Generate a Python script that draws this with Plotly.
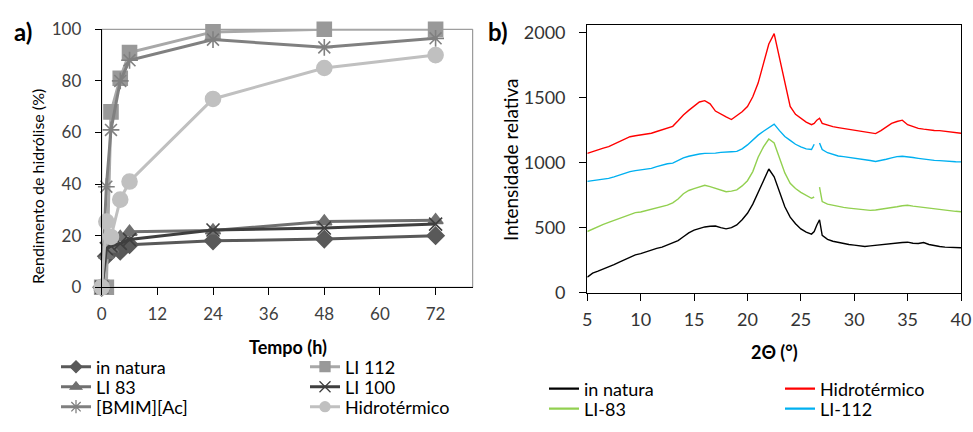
import plotly.graph_objects as go

W, H = 973, 432

# ---------------- panel a) data ----------------
tempo_h = [0, 1, 2, 4, 6, 24, 48, 72]
in_natura = [0, 12, 14, 14, 16.5, 18, 18.7, 20]
li_112 = [0, 0, 68, 81, 91, 99, 100, 100]
li_83 = [0, 12.5, 15, 19.5, 21.5, 22, 25.5, 26]
li_100 = [0, 15, 16, 17, 18.5, 22.2, 23, 24.5]
bmim_ac = [0, 39, 61, 80, 88, 96, 93, 96.5]
hidrotermico = [0, 25.5, 19.5, 34, 41, 73, 85, 90]

# ---------------- panel b) data ----------------
theta2 = [5.0, 5.5, 6.0, 6.5, 7.0, 7.5, 8.0, 8.5, 9.0, 9.5, 10.0, 10.5, 11.0, 11.5, 12.0, 12.5,
          13.0, 13.5, 14.0, 14.5, 15.0, 15.5, 16.0, 16.5, 17.0, 17.5, 18.0, 18.5, 19.0, 19.5,
          20.0, 20.5, 21.0, 21.5, 22.0, 22.5, 23.0, 23.5, 24.0, 24.5, 25.0, 25.5, 26.0,
          26.25, 26.5, 26.75, 27.0, 27.5, 28.0, 28.5, 29.0, 29.5, 30.0, 30.5, 31.0, 31.5,
          32.0, 32.5, 33.0, 33.5, 34.0, 34.5, 35.0, 35.5, 36.0, 36.5, 37.0, 37.5, 38.0,
          38.5, 39.0, 39.5, 40.0]
xrd_in_natura = [120, 150, 165, 180, 200, 215, 235, 255, 275, 290, 300, 315, 330, 340, 350, 365,
                 380, 400, 430, 460, 480, 495, 505, 510, 512, 500, 490, 500, 520, 560,
                 610, 680, 770, 860, 950, 890, 780, 660, 580, 530, 490, 465, 450,
                 470, 520, 560, 440, 410, 395, 385, 375, 370, 365, 360, 355, 360,
                 365, 370, 375, 378, 382, 385, 388, 380, 378, 385, 370, 360, 355,
                 350, 348, 345, 345]
xrd_li83 = [470, 490, 510, 525, 540, 555, 570, 590, 605, 615, 620, 630, 640, 650, 660, 672,
            690, 720, 760, 785, 800, 815, 825, 815, 800, 785, 775, 780, 790, 820,
            860, 930, 1040, 1120, 1180, 1150, 1030, 920, 840, 800, 770, 745, 725,
            735, None, 810, 700, 680, 670, 662, 655, 650, 645, 640, 635, 632,
            635, 640, 645, 652, 660, 668, 672, 665, 660, 652, 645, 640, 635,
            630, 628, 625, 622]
xrd_li112 = [855, 860, 865, 870, 878, 890, 905, 918, 930, 938, 945, 950, 955, 968, 980, 990,
             995, 1015, 1035, 1048, 1058, 1065, 1070, 1070, 1072, 1078, 1083, 1083, 1085, 1105,
             1135, 1175, 1210, 1240, 1265, 1295, 1245, 1200, 1170, 1140, 1120, 1105, 1100,
             1140, None, 1150, 1100, 1075, 1060, 1050, 1045, 1040, 1035, 1030, 1025, 1015,
             1008, 1015, 1025, 1035, 1045, 1048, 1045, 1038, 1032, 1025, 1020, 1016, 1014,
             1010, 1008, 1006, 1005]
xrd_hidro = [1070, 1085, 1098, 1110, 1122, 1140, 1160, 1180, 1198, 1205, 1212, 1218, 1225, 1238, 1250, 1262,
             1278, 1320, 1365, 1400, 1430, 1465, 1475, 1450, 1395, 1370, 1350, 1330, 1360, 1390,
             1430, 1505, 1610, 1760, 1910, 1990, 1810, 1610, 1430, 1370, 1340, 1310, 1290,
             1300, 1325, 1340, 1300, 1285, 1275, 1268, 1262, 1255, 1250, 1245, 1238, 1230,
             1222, 1245, 1275, 1300, 1315, 1325, 1290, 1275, 1262, 1256, 1250, 1246, 1245,
             1240, 1237, 1230, 1224]

FONT = "Lato"
fig = go.Figure()


def px_x(p):
    return p / W


def px_y(p):
    return 1 - p / H


legend_pos = {}
leg_counter = [0]


def new_legend(left, yc, size):
    leg_counter[0] += 1
    n = leg_counter[0]
    key = "legend" if n == 1 else f"legend{n}"
    legend_pos[key] = dict(x=px_x(left), y=px_y(yc), xanchor="left", yanchor="middle",
                           bgcolor="rgba(0,0,0,0)", borderwidth=0,
                           font=dict(family=FONT, size=size, color="#000000"),
                           tracegroupgap=0, itemsizing="trace")
    return key


series_a = [
    ("in natura", in_natura, "#595959", "#595959", "diamond", 13, 9, (56, 367)),
    ("LI 112", li_112, "#A8A8A8", "#999999", "square", 14, 10, (305, 367)),
    ("LI 83", li_83, "#707070", "#707070", "triangle-up", 13, 10, (56, 387)),
    ("LI 100", li_100, "#3F3F3F", "#3F3F3F", "x-thin-open", 13, 11, (305, 387)),
    ("[BMIM][Ac]", bmim_ac, "#808080", "#808080", "asterisk-open", 14, 11, (56, 407)),
    ("Hidrotérmico", hidrotermico, "#C0C0C0", "#C0C0C0", "circle", 15, 10, (305, 407)),
]
for name, vals, lc, mc, sym, ms, lms, (lx, ly) in series_a:
    fig.add_trace(go.Scatter(
        x=tempo_h, y=vals, name=name, mode="lines+markers",
        line=dict(color=lc, width=3),
        marker=dict(symbol=sym, size=ms, color=mc, line=dict(color=mc, width=1.6)),
        xaxis="x", yaxis="y", showlegend=False, cliponaxis=False))
for name, vals, lc, mc, sym, ms, lms, (lx, ly) in series_a:
    key = new_legend(lx, ly, 18)
    fig.add_trace(go.Scatter(
        x=[None], y=[None], name=name, mode="lines+markers",
        line=dict(color=lc, width=3),
        marker=dict(symbol=sym, size=lms, color=mc, line=dict(color=mc, width=1.3)),
        xaxis="x", yaxis="y", legend=key))

series_b = [
    ("in natura", xrd_in_natura, "#000000", (544, 389)),
    ("LI-83", xrd_li83, "#92D050", (544, 409)),
    ("LI-112", xrd_li112, "#00B0F0", (780, 409)),
    ("Hidrotérmico", xrd_hidro, "#FF0000", (780, 389)),
]
for name, vals, col, (lx, ly) in series_b:
    fig.add_trace(go.Scatter(
        x=theta2, y=vals, name=name, mode="lines",
        line=dict(color=col, width=1.4), connectgaps=False,
        xaxis="x2", yaxis="y2", showlegend=False))
for name, vals, col, (lx, ly) in series_b:
    key = new_legend(lx, ly, 18)
    fig.add_trace(go.Scatter(
        x=[None], y=[None], name=name, mode="lines",
        line=dict(color=col, width=2.2), xaxis="x2", yaxis="y2", legend=key))

# plot areas in pixels
ax_l, ax_r, ax_t, ax_b = 101.7, 472.7, 29.3, 287.3
bx_l, bx_r, bx_t, bx_b = 587.3, 961.0, 25.0, 292.7

tickfont_a = dict(family=FONT, size=17, color="#404040")
tickfont_b = dict(family=FONT, size=18, color="#333333")


def label(text, x, y, size, angle=0):
    return dict(text=text, x=px_x(x), y=px_y(y), xref="paper", yref="paper",
                xanchor="center", yanchor="middle", showarrow=False, textangle=angle,
                font=dict(family=FONT, size=size, color="#000000"))


layout = dict(
    width=W, height=H,
    margin=dict(l=0, r=0, t=0, b=0, autoexpand=False),
    paper_bgcolor="white", plot_bgcolor="white",
    showlegend=True,
    xaxis=dict(domain=[px_x(ax_l), px_x(ax_r)], range=[0, 80], tickmode="array",
               tickvals=[0, 12, 24, 36, 48, 60, 72], ticks="outside", ticklen=7,
               tickcolor="#000000", showline=True, linecolor="#000000", linewidth=1,
               showgrid=False, zeroline=False, tickfont=tickfont_a, anchor="y",
               ticklabelstandoff=4, automargin=False),
    yaxis=dict(domain=[px_y(ax_b), px_y(ax_t)], range=[0, 100], dtick=20,
               ticks="outside", ticklen=6, tickcolor="#000000", showline=True,
               linecolor="#000000", linewidth=1, showgrid=False, zeroline=False,
               tickfont=tickfont_a, anchor="x", ticklabelstandoff=10, automargin=False),
    xaxis2=dict(domain=[px_x(bx_l), px_x(bx_r)], range=[5, 40], dtick=5,
                ticks="outside", ticklen=7, tickcolor="#000000", showline=True,
                linecolor="#000000", linewidth=1.3, mirror=True, showgrid=False,
                zeroline=False, tickfont=tickfont_b, anchor="y2", ticklabelstandoff=4,
                automargin=False),
    yaxis2=dict(domain=[px_y(bx_b), px_y(bx_t)], range=[0, 2056],
                tickvals=[0, 500, 1000, 1500, 2000],
                ticks="outside", ticklen=7, tickcolor="#000000", showline=True,
                linecolor="#000000", linewidth=1.3, mirror=True, showgrid=False,
                zeroline=False, tickfont=tickfont_b, anchor="x2", ticklabelstandoff=10,
                automargin=False),
    shapes=[dict(type="rect", xref="paper", yref="paper",
                 x0=px_x(ax_l), x1=px_x(ax_r), y0=px_y(ax_b), y1=px_y(ax_t),
                 line=dict(color="#868686", width=1), layer="below")],
    annotations=[
        label("<b>a)</b>", 23, 31, 24),
        label("<b>b)</b>", 498, 31, 24),
        label("Rendimento de hidrólise (%)", 37, 187, 16, -90),
        label("Intensidade relativa", 510, 160, 19, -90),
        label("<b>Tempo (h)</b>", 288, 347, 18),
        label("<b>2Θ (°)</b>", 774, 352, 18),
    ],
)
layout.update(legend_pos)
fig.update_layout(**layout)

fig.write_html("out.html", config={"displayModeBar": False},
               post_script="document.body.style.margin='0';document.body.style.overflow='hidden';")
